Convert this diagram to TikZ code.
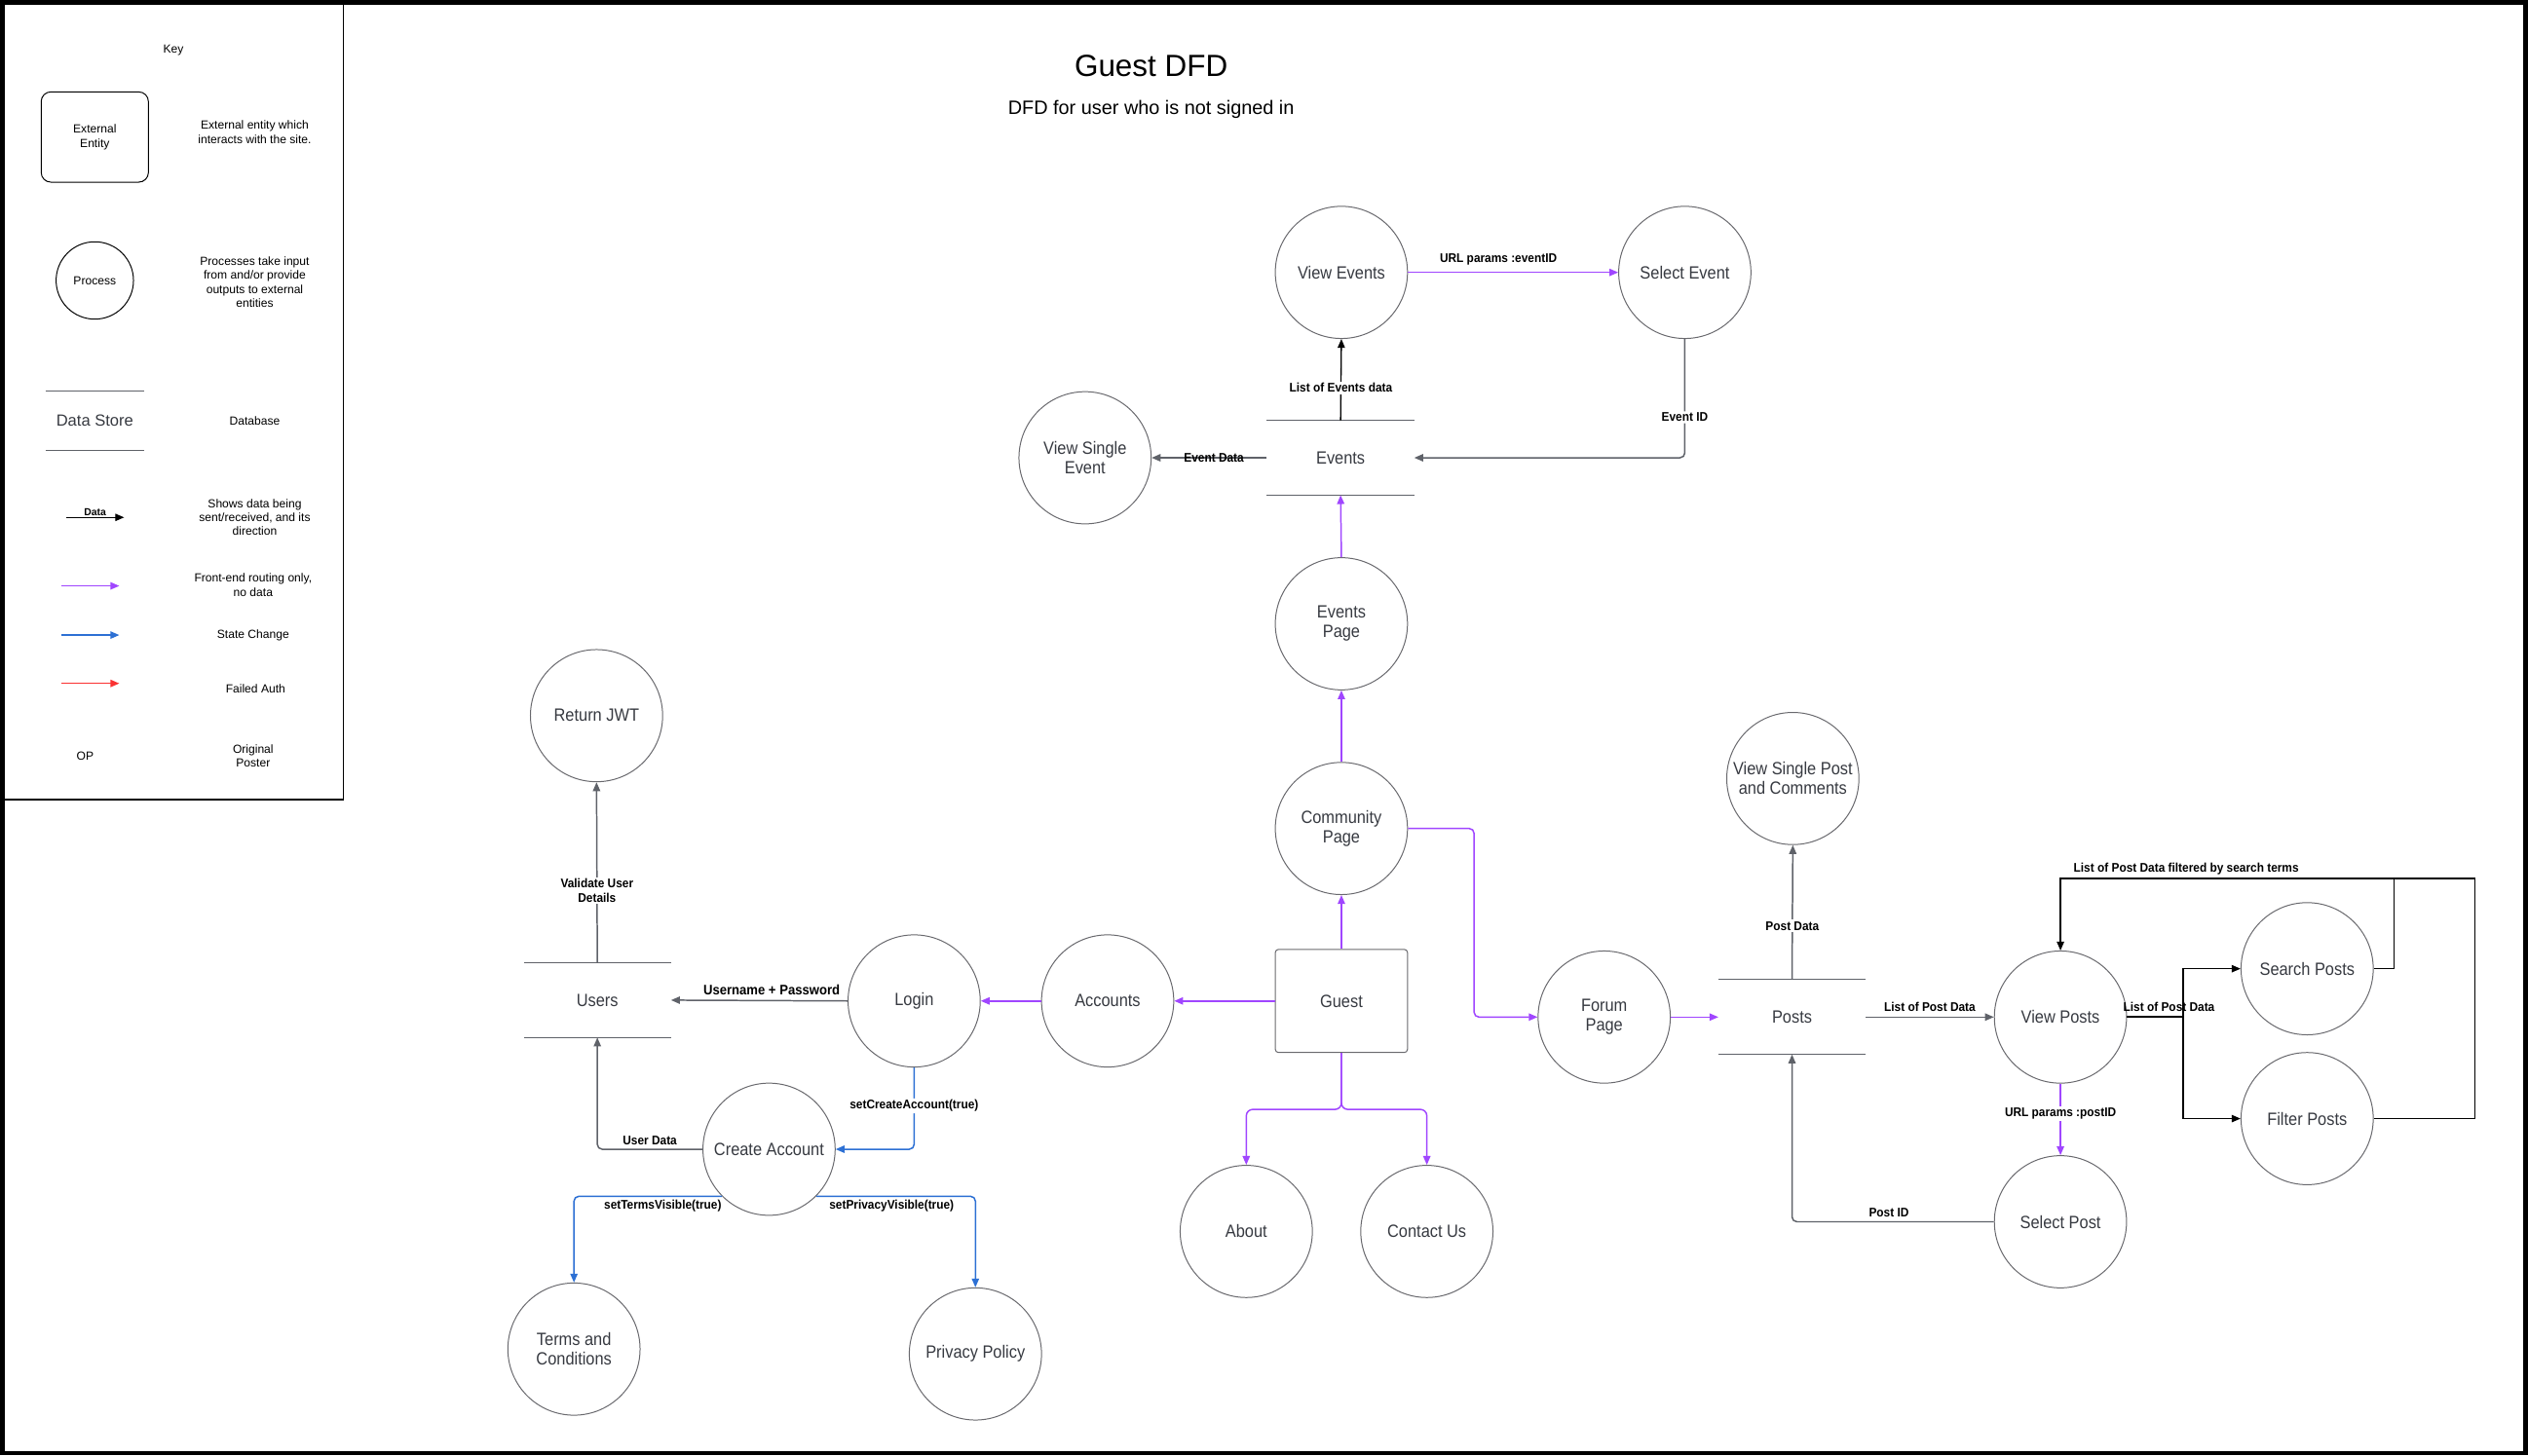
\documentclass[tikz,border=0pt]{standalone}
\usepackage{fontspec}
\setmainfont{Liberation Sans}
\newfontfamily\nf[FakeStretch=0.9]{Liberation Sans}
\newfontfamily\lf[FakeStretch=0.92]{Liberation Sans}
\usetikzlibrary{arrows.meta}
\definecolor{pur}{RGB}{160,70,255}
\definecolor{blu}{RGB}{45,112,212}
\definecolor{rd}{RGB}{250,50,50}
\definecolor{lgr}{RGB}{95,98,105}
\definecolor{cgr}{RGB}{105,105,110}
\definecolor{txt}{RGB}{55,58,65}
\begin{document}
\begin{tikzpicture}[x=1pt,y=-1pt,
  >={Triangle[length=5.5pt,width=4.5pt]},
  proc/.style={circle,draw=cgr,line width=0.6pt,minimum size=82pt,inner sep=0pt,align=center,
    font=\nf\fontsize{11}{12}\selectfont,text=txt},
  store/.style={minimum width=91pt,minimum height=46pt,inner sep=0pt,
    font=\nf\fontsize{11}{12}\selectfont,text=txt},
  sline/.style={draw=lgr,line width=0.6pt},
  lbl/.style={font=\lf\bfseries\fontsize{7.8}{8.8}\selectfont,inner sep=1pt,text=black,align=center},
  wl/.style={lbl,fill=white},
  dat/.style={draw=lgr,line width=0.9pt},
  blk/.style={draw=black,line width=0.8pt},
  prl/.style={draw=pur,line width=0.9pt},
  bll/.style={draw=blu,line width=0.9pt},
  kd/.style={font=\fontsize{7.3}{8.7}\selectfont,align=center,inner sep=0pt},
  kf/.style={font=\fontsize{7.3}{8.7}\selectfont,align=center}]
\useasboundingbox (0,0) rectangle (1568,903);
\fill[white] (0,0) rectangle (1568,903);
\draw[line width=3pt] (1.5,1.5) rectangle (1566.5,901.5);

% ---------- Key ----------
\draw[line width=0.8pt] (2,2) rectangle (213,496);
\node[kf] (keyt) at (107.5,31) {Key};
\node[kf,draw=black,line width=0.6pt,rounded corners=6pt,minimum width=66.5pt,minimum height=56pt] (kee) at (58.8,85) {External\\Entity};
\node[kd] (kd1) at (158,82) {External entity which\\interacts with the site.};
\node[kf,circle,draw=black,line width=0.6pt,minimum size=48pt,inner sep=0pt] (kp) at (58.8,174) {Process};
\node[kd] (kd2) at (158,175) {Processes take input\\from and/or provide\\outputs to external\\entities};
\node[store,minimum width=61pt,minimum height=36pt,font=\fontsize{10}{12}\selectfont,text=txt] (kds) at (58.8,261) {Data Store};
\draw[sline] (kds.north west) -- (kds.north east);
\draw[sline] (kds.south west) -- (kds.south east);
\node[kd] (kd3) at (158,261) {Database};
\coordinate (ka1) at (40.9,321); \coordinate (kb1) at (77,321);
\draw[blk,->] (ka1) -- node[above,font=\bfseries\fontsize{6.3}{7}\selectfont,inner sep=0.8pt] {Data} (kb1);
\node[kd] (kd4) at (158,321) {Shows data being\\sent/received, and its\\direction};
\coordinate (ka2) at (38,363.5); \coordinate (kb2) at (74,363.5);
\draw[prl,->] (ka2) -- (kb2);
\node[kd] (kd5) at (157,363) {Front-end routing only,\\no data};
\coordinate (ka3) at (38,394); \coordinate (kb3) at (74,394);
\draw[bll,->] (ka3) -- (kb3);
\node[kd] (kd6) at (157,394) {State Change};
\coordinate (ka4) at (38,424); \coordinate (kb4) at (74,424);
\draw[draw=rd,line width=0.9pt,->] (ka4) -- (kb4);
\node[kd] (kd7) at (158.5,427) {Failed Auth};
\node[kd] (kop) at (52.8,469) {OP};
\node[kd] (kd8) at (157,469) {Original\\Poster};

% ---------- Titles ----------
\node[font=\fontsize{19}{22}\selectfont] (title) at (714,41) {Guest DFD};
\node[font=\fontsize{12}{14}\selectfont] (sub) at (714,68) {DFD for user who is not signed in};

% ---------- Nodes ----------
\node[proc] (ve) at (832,169) {View Events};
\node[proc] (se) at (1045,169) {Select Event};
\node[proc] (vse) at (673,284) {View Single\\Event};
\node[store] (ev) at (831.5,284) {Events};
\draw[sline] (ev.north west) -- (ev.north east);
\draw[sline] (ev.south west) -- (ev.south east);
\node[proc] (ep) at (832,387) {Events\\Page};
\node[proc] (cp) at (832,514) {Community\\Page};
\node[draw=cgr,line width=0.6pt,rounded corners=2pt,minimum width=82pt,minimum height=64pt,inner sep=0pt,
  font=\nf\fontsize{11}{12}\selectfont,text=txt] (g) at (832,621) {Guest};
\node[proc] (acc) at (687,621) {Accounts};
\node[proc] (login) at (567,621) {Login};
\node[store] (users) at (370.5,620.5) {Users};
\draw[sline] (users.north west) -- (users.north east);
\draw[sline] (users.south west) -- (users.south east);
\node[proc] (jwt) at (370,444) {Return JWT};
\node[proc] (ca) at (477,713) {Create Account};
\node[proc] (tc) at (356,837) {Terms and\\Conditions};
\node[proc] (pp) at (605,840) {Privacy Policy};
\node[proc] (about) at (773,764) {About};
\node[proc] (cu) at (885,764) {Contact Us};
\node[proc] (fp) at (995,631) {Forum\\Page};
\node[store] (posts) at (1111.5,631) {Posts};
\draw[sline] (posts.north west) -- (posts.north east);
\draw[sline] (posts.south west) -- (posts.south east);
\node[proc] (vsp) at (1112,483) {View Single Post\\and Comments};
\node[proc] (vp) at (1278,631) {View Posts};
\node[proc] (srch) at (1431,601) {Search Posts};
\node[proc] (fil) at (1431,694) {Filter Posts};
\node[proc] (sp) at (1278,758) {Select Post};

% ---------- Connectors ----------
\draw[prl,->] (ve) -- node[lbl,above=3pt,pos=0.43] {URL params :eventID} (se);
\draw[dat,->,rounded corners=3pt] (se.south) |- node[wl,pos=0.33] {Event ID} (ev.east);
\draw[blk,->] (ev.north) -- node[wl,pos=0.4] {List of Events data} (ve.south);
\draw[dat,->] (ev.west) -- node[lbl,pos=0.46] {Event Data} (vse.east);
\draw[prl,->] (ep.north) -- (ev.south);
\draw[prl,->] (cp.north) -- (ep.south);
\draw[prl,->] (g.north) -- (cp.south);
\draw[prl,->,rounded corners=3pt] (cp.east) -- ++(41,0) |- (fp.west);
\draw[prl,->] (g.west) -- (acc.east);
\draw[prl,->] (acc.west) -- (login.east);
\draw[dat,->] (login.west) -- node[lbl,above=2pt,pos=0.43,font=\lf\bfseries\fontsize{8.6}{9.6}\selectfont] {Username + Password} (users.east);
\draw[dat,->] (users.north) -- node[wl,pos=0.4] {Validate User\\Details} (jwt.south);
\draw[bll,->,rounded corners=3pt] (login.south) |- node[wl,pos=0.235] {setCreateAccount(true)} (ca.east);
\draw[dat,->,rounded corners=3pt] (ca.west) -| node[lbl,above=1.5pt,pos=0.25] {User Data} (users.south);
\draw[bll,->,rounded corners=3pt] (ca.225) -| node[lbl,below=1pt,pos=0.2] {setTermsVisible(true)} (tc.north);
\draw[bll,->,rounded corners=3pt] (ca.-45) -| node[lbl,below=1pt,pos=0.237] {setPrivacyVisible(true)} (pp.north);
\draw[prl,->,rounded corners=4pt] (g.south) -- ++(0,35) -| (about.north);
\draw[prl,->,rounded corners=4pt] (g.south) -- ++(0,35) -| (cu.north);
\draw[prl,->] (fp.east) -- (posts.west);
\draw[dat,->] (posts.north) -- node[wl,pos=0.4] {Post Data} (vsp.south);
\draw[dat,->] (posts.east) -- node[lbl,above=2pt] {List of Post Data} (vp.west);
\draw[prl,->] (vp.south) -- node[wl,pos=0.42] {URL params :postID} (sp.north);
\draw[dat,->,rounded corners=3pt] (sp.west) -| node[lbl,above=1.5pt,pos=0.26] {Post ID} (posts.south);
\coordinate (br) at (1354,631);
\coordinate (sl) at (1485,545);
\coordinate (fl) at (1535,545);
\draw[blk,line width=1.1pt] (vp.east) -- node[lbl,above=2pt,pos=0.75] {List of Post Data} (br);
\draw[blk,->] (br) |- (srch.west);
\draw[blk,->] (br) |- (fil.west);
\draw[blk,->] (srch.east) -| (sl) -| (vp.north);
\draw[blk] (fil.east) -| (fl) -- (sl);
\node[lbl,above=1pt] (flt) at (1356,545) {List of Post Data filtered by search terms};
\end{tikzpicture}
\end{document}
